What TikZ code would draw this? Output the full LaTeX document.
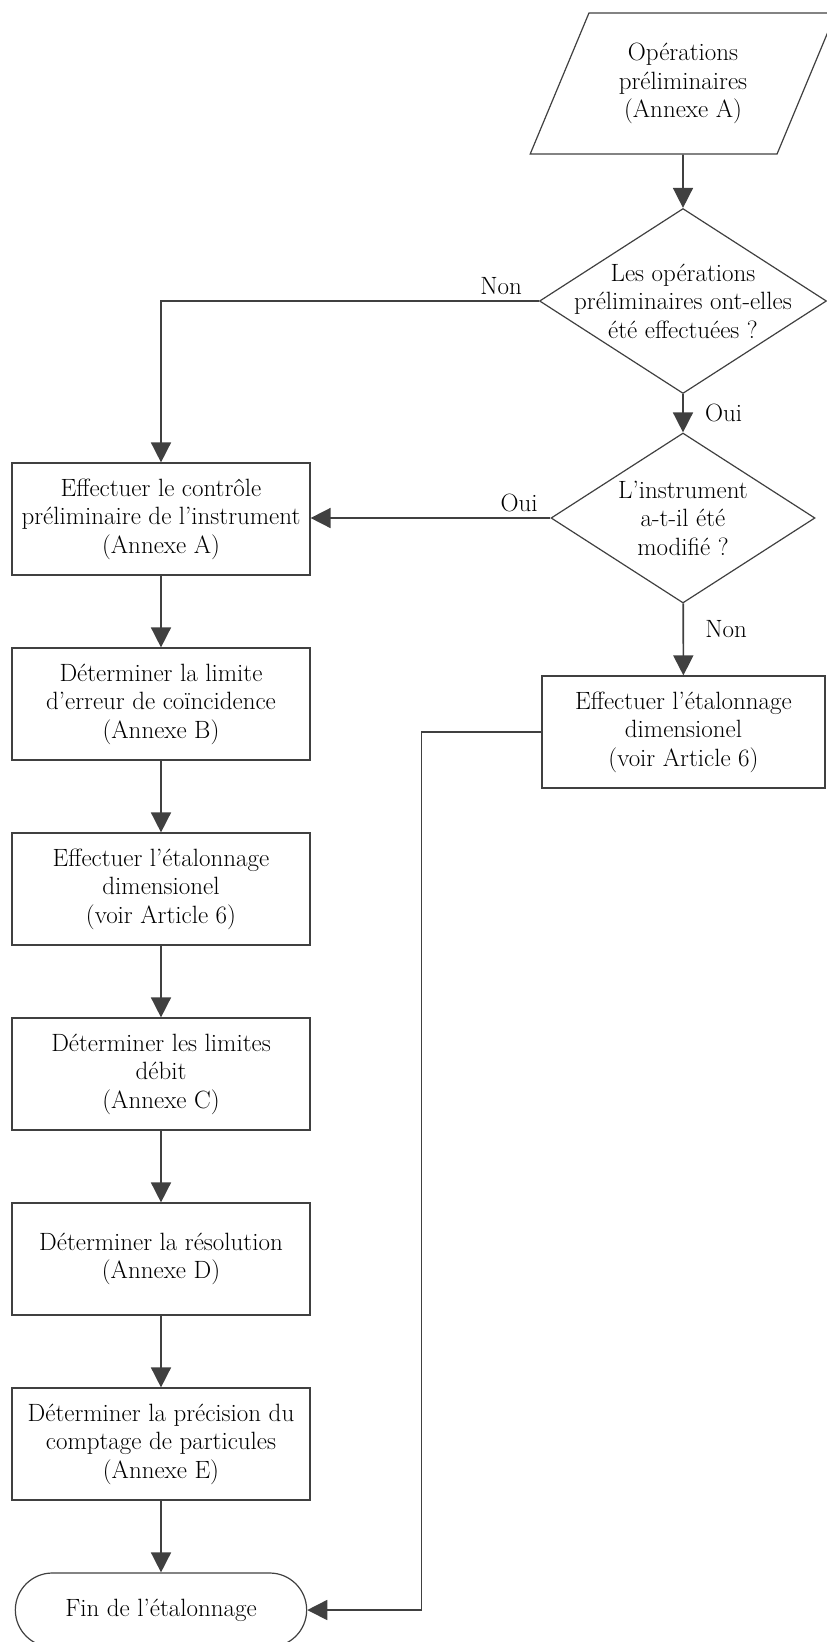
\documentclass[tikz,border=0pt]{standalone}
\usepackage{fontspec}
\usepackage{tikz}
\usetikzlibrary{arrows.meta,shapes.geometric,shapes.misc}

\definecolor{linegray}{HTML}{404040}
\newcommand{\flowfont}{\fontsize{25}{28.5}\selectfont}

\begin{document}
\begin{tikzpicture}[x=1pt,y=-1pt,>={Triangle[length=20pt,width=20pt]},
                    node distance=185pt,
                    box node/.style={rectangle,draw=linegray,line width=1.2pt,
                      minimum width=298pt,minimum height=112pt,align=center,font=\flowfont},
                    choice node/.style={diamond,draw=linegray,line width=1.2pt,
                      aspect=1.55,inner sep=-14pt,align=center,font=\flowfont},
                    link/.style={->,draw=linegray,line width=1.6pt},
                    tag/.style={font=\flowfont,text=black}]

  \clip (0,0) rectangle (827,1642);

  % right column
  \node[trapezium,trapezium left angle=63.6,trapezium right angle=116.4,
        trapezium stretches=true,draw=linegray,line width=1.2pt,
        minimum width=306pt,minimum height=141pt,
        inner sep=0pt,align=center,font=\flowfont] (prelim) at (683,83.5)
        {Opérations\\préliminaires\\(Annexe A)};
  \node[choice node,minimum width=287pt,minimum height=185pt] (done) at (683,301)
        {Les opérations\\préliminaires ont-elles\\été effectuées ?};
  \node[choice node,minimum width=264pt,minimum height=170pt] (modif) at (683,518)
        {L’instrument\\a-t-il été\\modifié ?};
  \node[box node,minimum width=283pt] (dimright) at (683.5,732)
        {Effectuer l’étalonnage\\dimensionel\\(voir Article 6)};

  % left column
  \node[box node] (check) at (161,519)
        {Effectuer le contrôle\\préliminaire de l’instrument\\(Annexe A)};
  \node[box node] (coinc) [below of=check]
        {Déterminer la limite\\d’erreur de coïncidence\\(Annexe B)};
  \node[box node] (dimleft) [below of=coinc]
        {Effectuer l’étalonnage\\dimensionel\\(voir Article 6)};
  \node[box node] (flow) [below of=dimleft]
        {Déterminer les limites\\débit\\(Annexe C)};
  \node[box node] (resol) [below of=flow]
        {Déterminer la résolution\\(Annexe D)};
  \node[box node] (count) [below of=resol]
        {Déterminer la précision du\\comptage de particules\\(Annexe E)};
  \node[rounded rectangle,draw=linegray,line width=1.2pt,minimum width=298pt,
        minimum height=74pt,font=\flowfont] (fin) [below of=count,node distance=166pt]
        {Fin de l’étalonnage};

  % connectors
  \draw[link] (prelim) -- (done);
  \draw[link] (done.west) -| node[tag,pos=0.05,above=2pt] {Non} (check.north);
  \draw[link] (done) -- node[tag,right=18pt] {Oui} (modif);
  \draw[link] (modif.west) -- node[tag,pos=0.13,above=2pt] {Oui} (modif.west -| check.east);
  \draw[link] (modif) -- node[tag,pos=0.35,right=18pt] {Non} (dimright);
  \draw[link] (check) -- (coinc);
  \draw[link] (coinc) -- (dimleft);
  \draw[link] (dimleft) -- (flow);
  \draw[link] (flow) -- (resol);
  \draw[link] (resol) -- (count);
  \draw[link] (count) -- (fin);
  \draw[link] (dimright.west) -- ++(-120,0) |- (fin.east);
\end{tikzpicture}
\end{document}
